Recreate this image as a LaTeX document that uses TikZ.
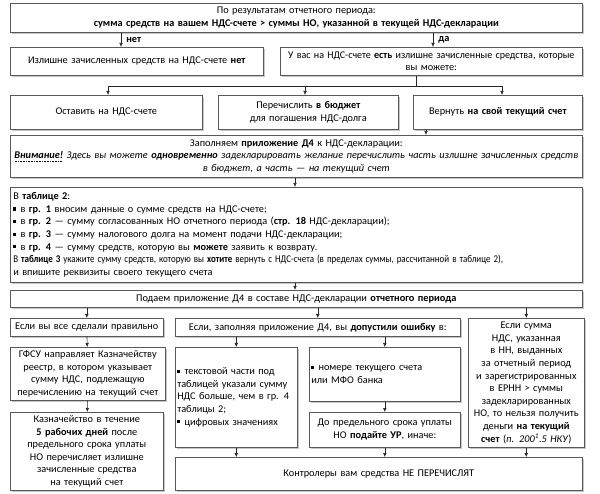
\documentclass[tikz,border=0pt]{standalone}
\usepackage{fontspec}
\usepackage{graphicx}
\setmainfont{Carlito}
\usetikzlibrary{arrows.meta,shadows}
\newcommand\fs{\fontsize{10.3}{12.6}\selectfont}
\newcommand\sqb{\raisebox{0.17em}{\rule{0.3em}{0.3em}}\hspace{0.4em}}
\newsavebox\dulbox
\newcommand\dotul[1]{\leavevmode\sbox\dulbox{#1}\rlap{\raisebox{-2.6pt}{\hbox to \wd\dulbox{\leaders\hbox to 1.6pt{\hss\rule{0.7pt}{0.7pt}\hss}\hfill}}}\usebox\dulbox}
\begin{document}
\begin{tikzpicture}[x=1pt,y=-1pt,
  box/.style={draw=black!65, line width=0.6pt, fill=white, anchor=north west,
    inner sep=2pt, font=\fs, align=center,
    general shadow={fill=black!22, shadow xshift=1.3pt, shadow yshift=-1.3pt}},
  arr/.style={draw=black!85, line width=0.6pt, -{Latex[length=4pt,width=3.6pt]}},
  ln/.style={draw=black!85, line width=0.6pt},
  lbl/.style={font=\fs\bfseries, inner sep=1pt, anchor=west}]
\useasboundingbox[fill=white] (0,0) rectangle (600,494);

% column coordinates
\coordinate (x121) at (121,0);
\coordinate (x433) at (433,0);
\coordinate (x416) at (416,0);
\coordinate (x108) at (108,0);
\coordinate (x305) at (305,0);
\coordinate (x502) at (502,0);
\coordinate (x426) at (426,0);
\coordinate (x295) at (295,0);
\coordinate (j) at (416,86);

\node[box, minimum width=572pt, minimum height=29pt, text width=564pt] (n1) at (10,3)
  {По результатам отчетного периода:\\
   \textbf{сумма средств на вашем НДС-счете > суммы НО, указанной в текущей НДС-декларации}};
\node[box, minimum width=253pt, minimum height=28pt, text width=245pt] (n2) at (10,47)
  {Излишне зачисленных средств на НДС-счете \textbf{нет}};
\node[box, minimum width=302pt, minimum height=28pt, text width=300pt, inner sep=1pt] (n3) at (280,47)
  {\scalebox{0.97}[1]{У вас на НДС-счете \textbf{есть} излишне зачисленные средства, которые}\\вы можете:};
\node[box, minimum width=192pt, minimum height=34pt, text width=184pt] (n4) at (10,95)
  {Оставить на НДС-счете};
\node[box, minimum width=180pt, minimum height=34pt, text width=172pt] (n5) at (218,95)
  {Перечислить \textbf{в бюджет}\\для погашения НДС-долга};
\node[box, minimum width=169pt, minimum height=34pt, text width=161pt] (n6) at (413,95)
  {Вернуть \textbf{на свой текущий счет}};
\node[box, minimum width=572pt, minimum height=42pt, text width=564pt] (n7) at (10,135)
  {Заполняем \textbf{приложение Д4} к НДС-декларации:\\
   \dotul{\textbf{\textit{Внимание!}}} \textit{Здесь вы можете \textbf{одновременно} задекларировать желание перечислить часть излишне зачисленных средств}\\
   \textit{в бюджет, а часть — на текущий счет}};
\node[box, minimum width=572pt, minimum height=95pt, text width=566pt, align=left] (n8) at (10,187)
  {В \textbf{таблице 2}:\\
   \sqb в \textbf{гр. 1} вносим данные о сумме средств на НДС-счете;\\
   \sqb в \textbf{гр. 2} — сумму согласованных НО отчетного периода (\textbf{стр. 18} НДС-декларации);\\
   \sqb в \textbf{гр. 3} — сумму налогового долга на момент подачи НДС-декларации;\\
   \sqb в \textbf{гр. 4} — сумму средств, которую вы \textbf{можете} заявить к возврату.\\
   \scalebox{0.87}[1]{В \textbf{таблице 3} укажите сумму средств, которую вы \textbf{хотите} вернуть с НДС-счета (в пределах суммы, рассчитанной в таблице 2),}\\
   и впишите реквизиты своего текущего счета};
\node[box, minimum width=572pt, minimum height=17pt, text width=564pt] (n9) at (10,290)
  {Подаем приложение Д4 в составе НДС-декларации \textbf{отчетного периода}};
\node[box, minimum width=153pt, minimum height=18pt, text width=149pt] (n10) at (10,318)
  {Если вы все сделали правильно};
\node[box, minimum width=285pt, minimum height=18pt, text width=279pt] (n11) at (175,318)
  {Если, заполняя приложение Д4, вы \textbf{допустили ошибку} в:};
\node[box, minimum width=114pt, minimum height=129pt, text width=112pt] (n12) at (468,318)
  {Если сумма\\НДС, указанная\\в НН, выданных\\за отчетный период\\и зарегистрированных\\в ЕРНН > суммы\\задекларированных\\НО, то нельзя получить\\деньги \textbf{на текущий}\\\textbf{счет} (\textit{п. 200\textsuperscript{1}.5 НКУ})};
\node[box, minimum width=153pt, minimum height=53pt, text width=151pt] (n13) at (10,347)
  {ГФСУ направляет Казначейству\\реестр, в котором указывает\\сумму НДС, подлежащую\\перечислению на текущий счет};
\node[box, minimum width=153pt, minimum height=78pt, text width=149pt] (n14) at (10,412)
  {Казначейство в течение\\\textbf{5 рабочих дней} после\\предельного срока уплаты\\НО перечисляет излишне\\зачисленные средства\\на текущий счет};
\node[box, minimum width=122pt, minimum height=100pt, text width=118pt, align=left] (n15) at (175,347)
  {\sqb текстовой части под\\таблицей указали сумму\\НДС больше, чем в гр. 4\\таблицы 2;\\\sqb цифровых значениях};
\node[box, minimum width=151pt, minimum height=54pt, text width=147pt, align=left] (n16) at (309,347)
  {\sqb номере текущего счета\\или МФО банка};
\node[box, minimum width=151pt, minimum height=35pt, text width=147pt] (n17) at (309,412)
  {До предельного срока уплаты\\НО \textbf{подайте УР}, иначе:};
\node[box, minimum width=407pt, minimum height=33pt, text width=399pt] (n18) at (175,457)
  {Контролеры вам средства НЕ ПЕРЕЧИСЛЯТ};

% connectors
\draw[arr] (n1.south -| x121) -- node[lbl, xshift=4pt] {нет} (n2.north -| x121);
\draw[arr] (n1.south -| x433) -- node[lbl, xshift=4pt] {да} (n3.north -| x433);
\draw[ln] (n3.south -| x416) -- (j);
\draw[arr] (j) -| (n4.north -| x108);
\draw[arr] (j) -| (n6.north -| x502);
\draw[arr] (j -| x305) -- (n5.north -| x305);
\draw[arr] (n6.south -| x426) -- (n7.north -| x426);
\draw[arr] (n7.south -| x295) -- (n8.north -| x295);
\draw[arr] (n8.south -| x295) -- (n9.north -| x295);
\draw[arr] (n9.south -| n10.north) -- (n10.north);
\draw[arr] (n9.south -| n11.north) -- (n11.north);
\draw[arr] (n9.south -| n12.north) -- (n12.north);
\draw[arr] (n10) -- (n13);
\draw[arr] (n13) -- (n14);
\draw[arr] (n11.south -| n15.north) -- (n15.north);
\draw[arr] (n11.south -| n16.north) -- (n16.north);
\draw[arr] (n16) -- (n17);
\draw[arr] (n17.south) -- (n18.north -| n17.south);
\draw[arr] (n15.south) -- (n18.north -| n15.south);
\draw[arr] (n12.south) -- (n18.north -| n12.south);
\end{tikzpicture}
\end{document}
